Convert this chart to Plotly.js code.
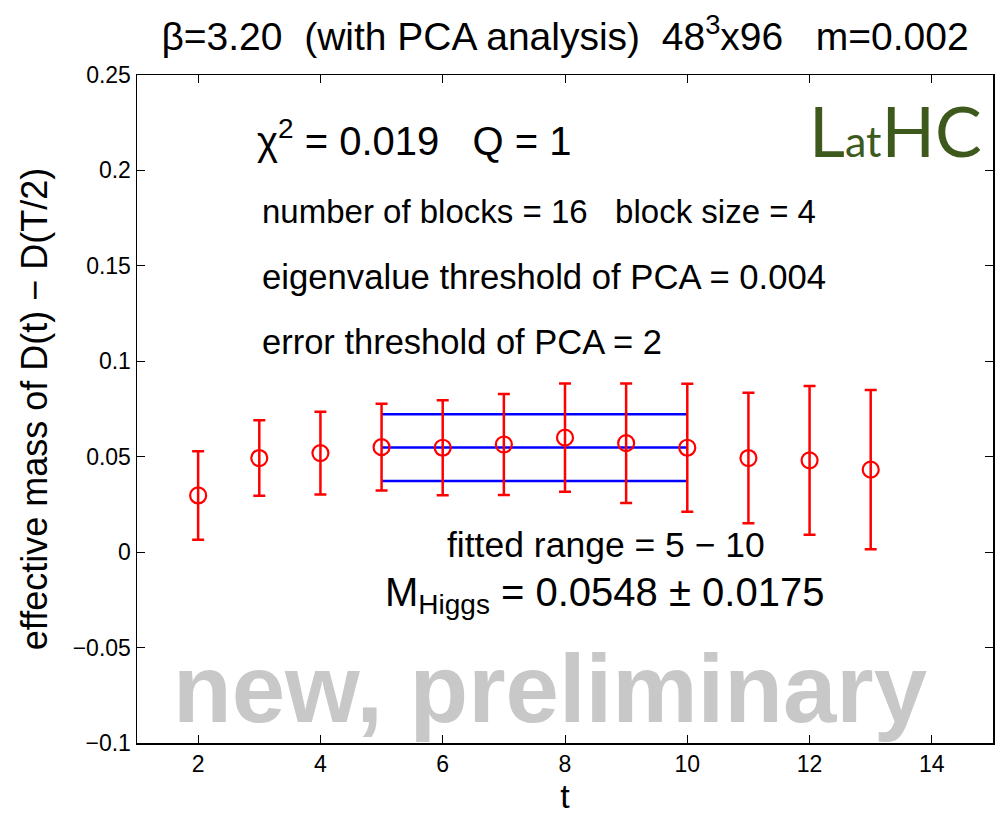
<!DOCTYPE html>
<html>
<head>
<meta charset="utf-8">
<script src="https://cdn.plot.ly/plotly-3.0.1.min.js"></script>
<style>html,body{margin:0;padding:0;background:#fff;}#chart{width:999px;height:817px;}</style>
</head>
<body>
<div id="chart"></div>
<script>
// data
var tValues = [2, 3, 4, 5, 6, 7, 8, 9, 10, 11, 12, 13];
var effMass = [0.0297, 0.0493, 0.0519, 0.0550, 0.0547, 0.0564, 0.0600, 0.0571, 0.0547, 0.0493, 0.0481, 0.0432];
var effErr  = [0.0232, 0.0198, 0.0217, 0.0227, 0.0249, 0.0264, 0.0284, 0.0313, 0.0335, 0.0342, 0.0390, 0.0417];
var fitRange = [5, 10];
var fitMass = 0.0548;
var fitErr = 0.0175;
var xTicks = [2, 4, 6, 8, 10, 12, 14];
var yTicks = [-0.1, -0.05, 0, 0.05, 0.1, 0.15, 0.2, 0.25];
var yTickText = ["\u22120.1", "\u22120.05", "0", "0.05", "0.1", "0.15", "0.2", "0.25"];

var FONT = "Liberation Sans, Arial, Helvetica, sans-serif";
var blue = "#0000ff", red = "#ff0000";

var traces = [
  {x: fitRange, y: [fitMass + fitErr, fitMass + fitErr], mode: "lines", line: {color: blue, width: 2.5}, hoverinfo: "skip"},
  {x: fitRange, y: [fitMass, fitMass], mode: "lines", line: {color: blue, width: 2.5}, hoverinfo: "skip"},
  {x: fitRange, y: [fitMass - fitErr, fitMass - fitErr], mode: "lines", line: {color: blue, width: 2.5}, hoverinfo: "skip"},
  {x: tValues, y: effMass, mode: "markers",
   marker: {symbol: "circle-open", size: 16, color: red, line: {color: red, width: 2.2}},
   error_y: {type: "data", array: effErr, visible: true, color: red, thickness: 2.5, width: 6}}
];

function ann(text, x, y, size, opts) {
  var a = {text: text, x: x, y: y, xref: "paper", yref: "paper", showarrow: false,
           xanchor: "left", yanchor: "middle", font: {family: FONT, size: size, color: "#000"}};
  for (var k in (opts || {})) a[k] = opts[k];
  return a;
}

var layout = {
  width: 999, height: 817,
  margin: {l: 137, r: 6, t: 75, b: 74},
  paper_bgcolor: "#fff", plot_bgcolor: "#fff",
  showlegend: false,
  font: {family: FONT, size: 23, color: "#000"},
  title: {text: "\u03b2=3.20  (with PCA analysis)  48<sup>3</sup>x96   m=0.002",
          x: 0.5, xref: "paper", y: 0.955, yanchor: "middle",
          font: {family: FONT, size: 39, color: "#000"}},
  xaxis: {range: [1, 15], tickvals: xTicks, ticktext: xTicks.map(String),
          ticks: "inside", ticklen: 8, tickwidth: 1, tickcolor: "#000",
          showline: true, linecolor: "#000", linewidth: 1.5, mirror: "ticks",
          showgrid: false, zeroline: false,
          tickfont: {family: FONT, size: 23, color: "#000"},
          title: {text: "t", font: {family: FONT, size: 34, color: "#000"}, standoff: 6}},
  yaxis: {range: [-0.1, 0.25], tickvals: yTicks, ticktext: yTickText,
          ticks: "inside", ticklen: 8, tickwidth: 1, tickcolor: "#000",
          showline: true, linecolor: "#000", linewidth: 1.5, mirror: "ticks",
          showgrid: false, zeroline: false,
          tickfont: {family: FONT, size: 23, color: "#000"},
          title: {text: "effective mass of D(t) \u2212 D(T/2)", font: {family: FONT, size: 36, color: "#000"}, standoff: 14}},
  annotations: [
    ann("\u03c7<sup>2</sup> = 0.019   Q = 1", 0.138, 0.905, 40),
    ann("number of blocks = 16   block size = 4", 0.144, 0.795, 33),
    ann("eigenvalue threshold of PCA = 0.004", 0.144, 0.698, 34.7),
    ann("error threshold of PCA = 2", 0.144, 0.600, 34.5),
    ann("fitted range = 5 \u2212 10", 0.548, 0.2964, 35.5, {xanchor: "center"}),
    ann("M<sub>Higgs</sub> = 0.0548 \u00b1 0.0175", 0.287, 0.222, 40),
    ann("<b>new, preliminary</b>", 0.4825, 0.082, 96, {xanchor: "center", font: {family: FONT, size: 96, color: "#c8c8c8"}}),
    ann("L<span style='font-size:43px'>at</span>HC", 0.886, 0.918, 70, {xanchor: "center", font: {family: "Lato, Open Sans, sans-serif", size: 70, color: "#3d5a1c"}})
  ]
};

Plotly.newPlot("chart", traces, layout, {staticPlot: true, displayModeBar: false});
</script>
</body>
</html>
